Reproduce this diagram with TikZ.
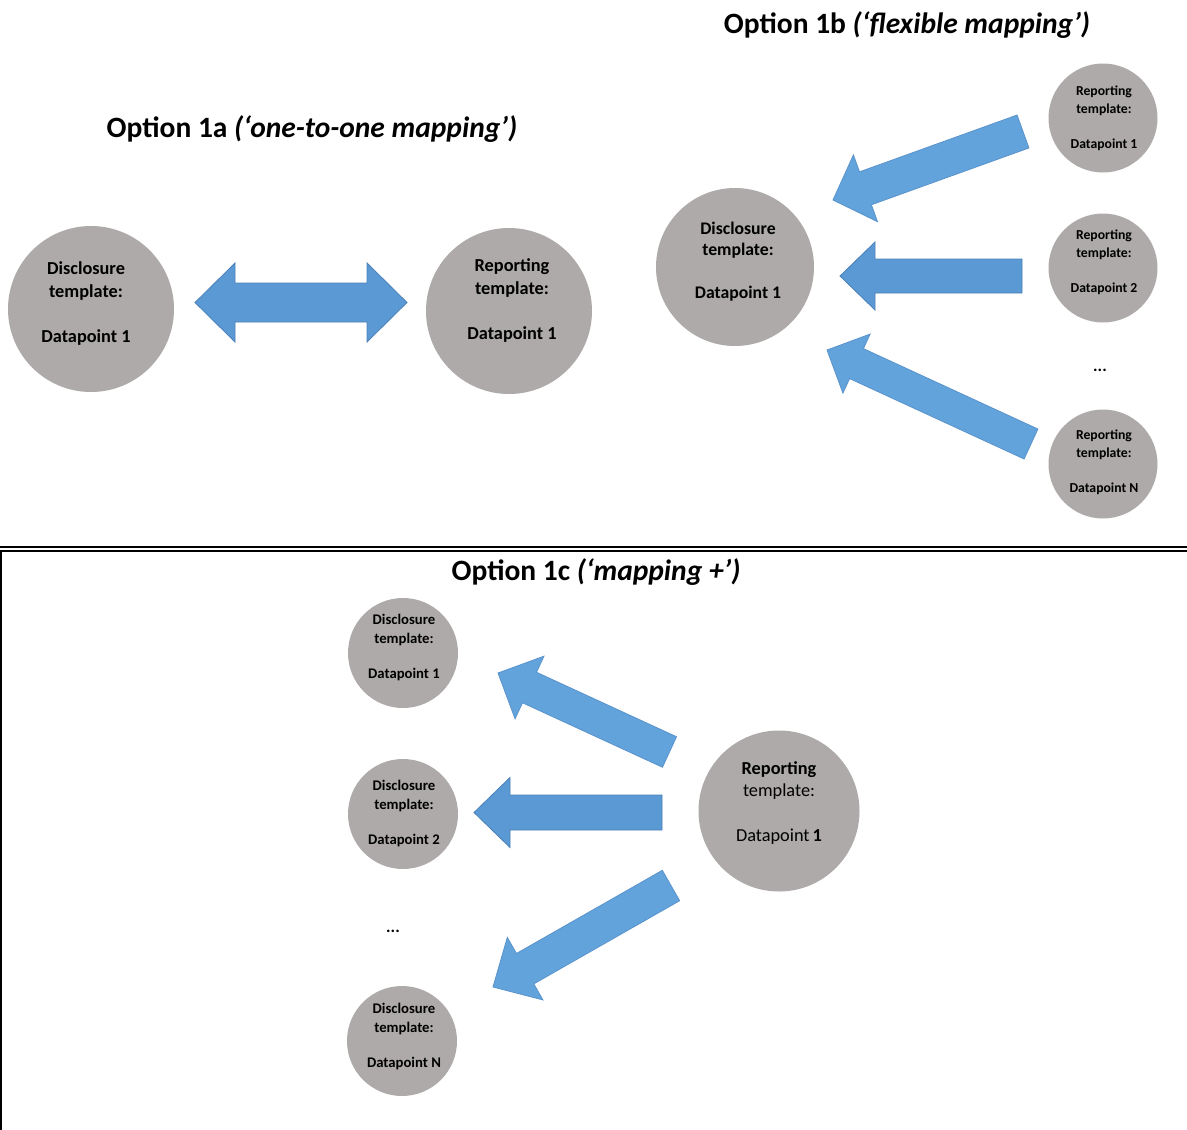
\documentclass[tikz,border=0pt]{standalone}
\usepackage{fontspec}
\setmainfont{Carlito}
\usetikzlibrary{calc}
\definecolor{circgray}{HTML}{ADAAA9}
\definecolor{arrlight}{HTML}{62A3DC}
\definecolor{arrlightline}{HTML}{5A93CB}
\definecolor{arrdark}{HTML}{5A99D4}
\definecolor{arrdarkline}{HTML}{4A80B8}
\newcommand{\blockarr}[6]{%
  \coordinate (#2-base) at ($(#2)!#5!(#1)$);
  \draw[#6] (#2) -- ($(#2-base)!#4!90:(#1)$) -- ($(#2-base)!#3!90:(#1)$)
    -- ($(#1)!#3!-90:(#2-base)$) -- ($(#1)!#3!90:(#2-base)$)
    -- ($(#2-base)!#3!-90:(#1)$) -- ($(#2-base)!#4!-90:(#1)$) -- cycle;
}
\begin{document}
\begin{tikzpicture}[x=1pt,y=-1pt,
  disc/.style={circle, fill=circgray, inner sep=0pt, minimum size=#1},
  title/.style={font=\fontsize{29.5}{33}\selectfont\bfseries, anchor=center},
  txtL/.style={align=center, font=\fontsize{18.3}{23}\selectfont\bfseries},
  txtB/.style={align=center, font=\fontsize{17.7}{21}\selectfont\bfseries},
  txtS/.style={align=center, font=\fontsize{13.7}{18}\selectfont\bfseries},
  txtC/.style={align=center, font=\fontsize{14.7}{19}\selectfont\bfseries},
  txtR/.style={align=center, font=\fontsize{18.3}{22}\selectfont},
  lightarr/.style={fill=arrlight, draw=arrlightline, line width=0.8pt, line join=miter},
  darkarr/.style={fill=arrdark, draw=arrdarkline, line width=0.8pt, line join=miter},
  dots/.style={font=\fontsize{17}{18}\selectfont\bfseries}
]
\useasboundingbox (0,0) rectangle (1187,1130);

% ---------- frame lines ----------
\draw[line width=2.5pt] (0,547) -- (1187,547);
\draw[line width=1.5pt] (0,550.8) -- (1187,550.8);
\draw[line width=2pt] (1,550) -- (1,1130);

% ---------- Option 1a ----------
\node[title] (t1a) at (312,129) {Option 1a \textit{(‘one-to-one mapping’)}};
\node[disc=166pt] (a1) at (91,309) {};
\node[disc=166pt] (a2) at (509,311) {};
\node[txtL] (a1t) at (86,304) {Disclosure\\template:\\[22pt]Datapoint 1};
\node[txtL] (a2t) at (512,300) {Reporting\\template:\\[22pt]Datapoint 1};
\coordinate (dl) at (195,302.5);
\coordinate (dr) at (407,302.5);
\draw[darkarr] (dl) -- (235,263) -- (235,283) -- (367,283) -- (367,263) -- (dr)
  -- (367,342) -- (367,322) -- (235,322) -- (235,342) -- cycle;

% ---------- Option 1b ----------
\node[title] (t1b) at (907,25) {Option 1b \textit{(‘flexible mapping’)}};
\node[disc=158pt] (b0) at (735,267) {};
\node[txtB] (b0t) at (738,262) {Disclosure\\template:\\[22pt]Datapoint 1};
\node[disc=109pt] (b1) at (1103,118) {};
\node[disc=109pt] (b2) at (1103,268) {};
\node[disc=109pt] (b3) at (1103,464) {};
\node[txtS] (b1t) at (1104,118.5) {Reporting\\template:\\[17pt]Datapoint 1};
\node[txtS] (b2t) at (1104,262.5) {Reporting\\template:\\[17pt]Datapoint 2};
\node[txtS] (b3t) at (1104,462.5) {Reporting\\template:\\[17pt]Datapoint N};
\node[dots] (bdots) at (1100,370) {...};

\coordinate (b1tail) at (1023,131.5);
\coordinate (b1tip) at (833,200);
\blockarr{b1tail}{b1tip}{17.5pt}{35.5pt}{34.5pt}{lightarr}
\coordinate (b2tail) at (1022,276);
\coordinate (b2tip) at (840,276);
\blockarr{b2tail}{b2tip}{17pt}{34pt}{35pt}{darkarr}
\coordinate (b3tail) at (1031,444);
\coordinate (b3tip) at (827,350);
\blockarr{b3tail}{b3tip}{16.5pt}{32.5pt}{32.5pt}{lightarr}

% ---------- Option 1c ----------
\node[title] (t1c) at (596,572) {Option 1c \textit{(‘mapping +’)}};
\node[disc=161pt] (c0) at (779,811) {};
\node[txtR] (c0t) at (779,803.5) {\textbf{Reporting}\\template:\\[23pt]Datapoint\,\textbf{1}};
\node[disc=110pt] (c1) at (403,653) {};
\node[disc=110pt] (c2) at (403,814) {};
\node[disc=110pt] (c3) at (402,1041) {};
\node[txtC] (c1t) at (404,647) {Disclosure\\template:\\[16pt]Datapoint 1};
\node[txtC] (c2t) at (404,813) {Disclosure\\template:\\[16pt]Datapoint 2};
\node[txtC] (c3t) at (404,1036.5) {Disclosure\\template:\\[16pt]Datapoint N};
\node[dots] (cdots) at (393,931) {...};

\coordinate (c1tail) at (669.5,752);
\coordinate (c1tip) at (498,673);
\blockarr{c1tail}{c1tip}{16.8pt}{34.5pt}{34.7pt}{lightarr}
\coordinate (c2tail) at (662,812.5);
\coordinate (c2tip) at (474,812.5);
\blockarr{c2tail}{c2tip}{17.5pt}{35pt}{36pt}{darkarr}
\coordinate (c3tail) at (671,885.5);
\coordinate (c3tip) at (493,987);
\blockarr{c3tail}{c3tip}{17.5pt}{36pt}{37pt}{lightarr}
\end{tikzpicture}
\end{document}
